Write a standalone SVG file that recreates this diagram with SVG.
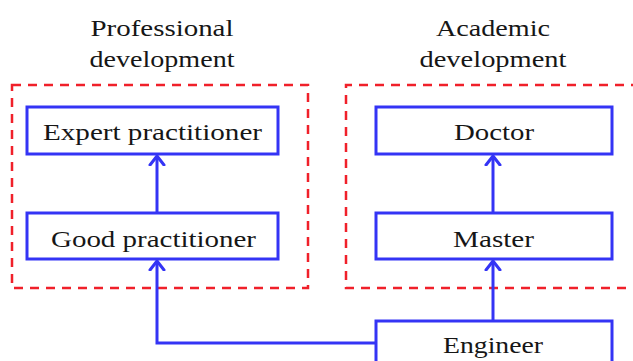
<svg xmlns="http://www.w3.org/2000/svg" width="633" height="361" viewBox="0 0 633 361">
<style>
text{font-family:'Liberation Serif',Tinos,'Times New Roman',Times,serif;font-size:24px;fill:#161616;text-anchor:middle}
.box{fill:#fff;stroke:#3434f5;stroke-width:3}
.grp{fill:none;stroke:#f0202a;stroke-width:2.5;stroke-dasharray:9 7}
.c{fill:none;stroke:#3434f5;stroke-width:3}
</style>
<defs>
<marker id="ah" markerUnits="userSpaceOnUse" markerWidth="20" markerHeight="20" refX="10" refY="10" orient="auto">
<path d="M1,3 L10,10 L1,17" fill="none" stroke="#3434f5" stroke-width="3" stroke-linecap="round" stroke-linejoin="round"/>
</marker>
</defs>
<g id="titles">
<text x="162" y="36" textLength="143" lengthAdjust="spacingAndGlyphs">Professional</text>
<text x="162" y="67" textLength="145" lengthAdjust="spacingAndGlyphs">development</text>
<text x="493" y="36" textLength="114" lengthAdjust="spacingAndGlyphs">Academic</text>
<text x="493" y="67" textLength="147" lengthAdjust="spacingAndGlyphs">development</text>
</g>
<g id="professional-group"><rect class="grp" x="12" y="85" width="296" height="203"/></g>
<g id="academic-group"><path class="grp" d="M640,85 H346 V288 H640"/></g>
<g id="connectors">
<path class="c" d="M157,213 V156" marker-end="url(#ah)"/>
<path class="c" d="M493,213 V156" marker-end="url(#ah)"/>
<path class="c" d="M493,321 V261" marker-end="url(#ah)"/>
<path class="c" d="M376,343 H157 V261" marker-end="url(#ah)"/>
</g>
<g id="expert">
<rect class="box" x="27" y="107" width="251" height="47"/>
<text x="152.5" y="140" textLength="219" lengthAdjust="spacingAndGlyphs">Expert practitioner</text>
</g>
<g id="good">
<rect class="box" x="27" y="213" width="251" height="46"/>
<text x="153.5" y="247" textLength="205" lengthAdjust="spacingAndGlyphs">Good practitioner</text>
</g>
<g id="doctor">
<rect class="box" x="376" y="107" width="236" height="47"/>
<text x="494" y="140" textLength="80" lengthAdjust="spacingAndGlyphs">Doctor</text>
</g>
<g id="master">
<rect class="box" x="376" y="213" width="236" height="46"/>
<text x="493.5" y="247" textLength="81" lengthAdjust="spacingAndGlyphs">Master</text>
</g>
<g id="engineer">
<rect class="box" x="376" y="321" width="236" height="50"/>
<text x="493" y="353" textLength="100" lengthAdjust="spacingAndGlyphs">Engineer</text>
</g>
</svg>
